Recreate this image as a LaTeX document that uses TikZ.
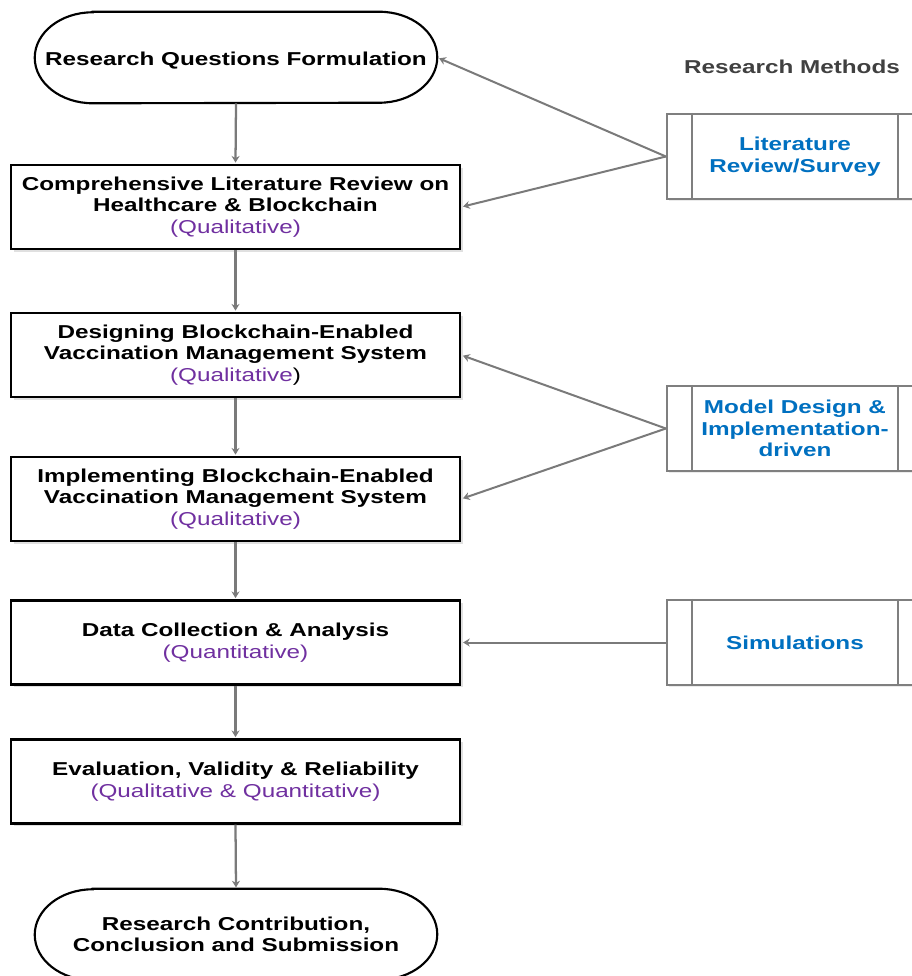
\documentclass[tikz,border=0pt]{standalone}
\usepackage{fontspec}
\setmainfont{Liberation Sans}[FakeStretch=1.3]
\usetikzlibrary{arrows.meta,shadows}
\definecolor{linegray}{HTML}{7A7A7A}
\definecolor{boxgray}{HTML}{7F7F7F}
\definecolor{methodblue}{HTML}{0070C0}
\definecolor{kindpurple}{HTML}{7030A0}
\definecolor{headgray}{HTML}{404040}
\newcommand{\kind}[1]{\textmd{\color{kindpurple}#1}}
\begin{document}
\begin{tikzpicture}[x=0.75pt,y=-0.75pt,
  every node/.style={font=\bfseries\fontsize{14}{16.2}\selectfont, align=center, inner sep=0pt},
  stage/.style={draw=black, line width=1.6pt, fill=white, minimum width=336.75pt, minimum height=63pt,
    general shadow={fill=black!12, shadow xshift=2.2pt, shadow yshift=-2.2pt}},
  terminal/.style={minimum width=301.5pt, minimum height=68.25pt},
  termline/.style={draw=black, line width=1.6pt, fill=white},
  method/.style={draw=boxgray, line width=1.7pt, fill=white, minimum width=192pt, minimum height=63.75pt, text=methodblue,
    general shadow={fill=black!8, shadow xshift=1.5pt, shadow yshift=-1.5pt}},
  flow/.style={draw=linegray, line width=1.7pt, -{Stealth[length=5pt,width=6pt]}, shorten >=1pt},
  feed/.style={draw=linegray, line width=1.5pt, -{Stealth[length=5pt,width=6pt]}, shorten >=1.5pt}]
\useasboundingbox (0,0) rectangle (912,976);
\clip (0,0) rectangle (912,976);

% start and end terminals (outline drawn below)
\node[terminal] (start) at (236,57.5) {};
\node[terminal] (finish) at (236,934.5) {};
\foreach \n in {start,finish}
  \draw[termline] ([xshift=43.5pt]\n.north west) -- ([xshift=-43.5pt]\n.north east)
    arc[start angle=90,end angle=-90,x radius=43.5pt,y radius=34.125pt]
    -- ([xshift=43.5pt]\n.south west)
    arc[start angle=270,end angle=90,x radius=43.5pt,y radius=34.125pt] -- cycle;
\node at ([yshift=-2pt]start) {Research Questions Formulation};
\node at ([yshift=0pt]finish) {Research Contribution,\\Conclusion and Submission};

% process stages
\node[stage] (review) at (235.5,207) {Comprehensive Literature Review on\\Healthcare \& Blockchain\\\kind{(Qualitative)}};
\node[stage] (design) at (235.5,355) {Designing Blockchain-Enabled\\Vaccination Management System\\\kind{(Qualitative}\textmd{)}};
\node[stage] (implement) at (235.5,499) {Implementing Blockchain-Enabled\\Vaccination Management System\\\kind{(Qualitative)}};
\node[stage] (data) at (235.5,642.5) {Data Collection \& Analysis\\\kind{(Quantitative)}};
\node[stage] (eval) at (235.5,781.5) {Evaluation, Validity \& Reliability\\\kind{(Qualitative \& Quantitative)}};

% research methods column
\node[text=headgray] (heading) at (792,67) {Research Methods};
\node[method] (lit) at (795,156.5) {Literature\\Review/Survey};
\node[method] (model) at (795,428.5) {Model Design \&\\Implementation-\\driven};
\node[method] (sim) at (795,642.5) {Simulations};
\foreach \m in {lit,model,sim} {
  \draw[boxgray, line width=1.7pt] ([xshift=19.5pt]\m.north west) -- ([xshift=19.5pt]\m.south west);
  \draw[boxgray, line width=1.7pt] ([xshift=-19.5pt]\m.north east) -- ([xshift=-19.5pt]\m.south east);
}

% main flow
\draw[flow] (start.south) -- (review.north);
\draw[flow] (review.south) -- (design.north);
\draw[flow] (design.south) -- (implement.north);
\draw[flow] (implement.south) -- (data.north);
\draw[flow] (data.south) -- (eval.north);
\draw[flow] (eval.south) -- (finish.north);

% method links
\draw[feed] (lit.west) -- (start.east);
\draw[feed] (lit.west) -- (review.east);
\draw[feed] (model.west) -- (design.east);
\draw[feed] (model.west) -- (implement.east);
\draw[feed] (sim.west) -- (data.east);
\end{tikzpicture}
\end{document}
